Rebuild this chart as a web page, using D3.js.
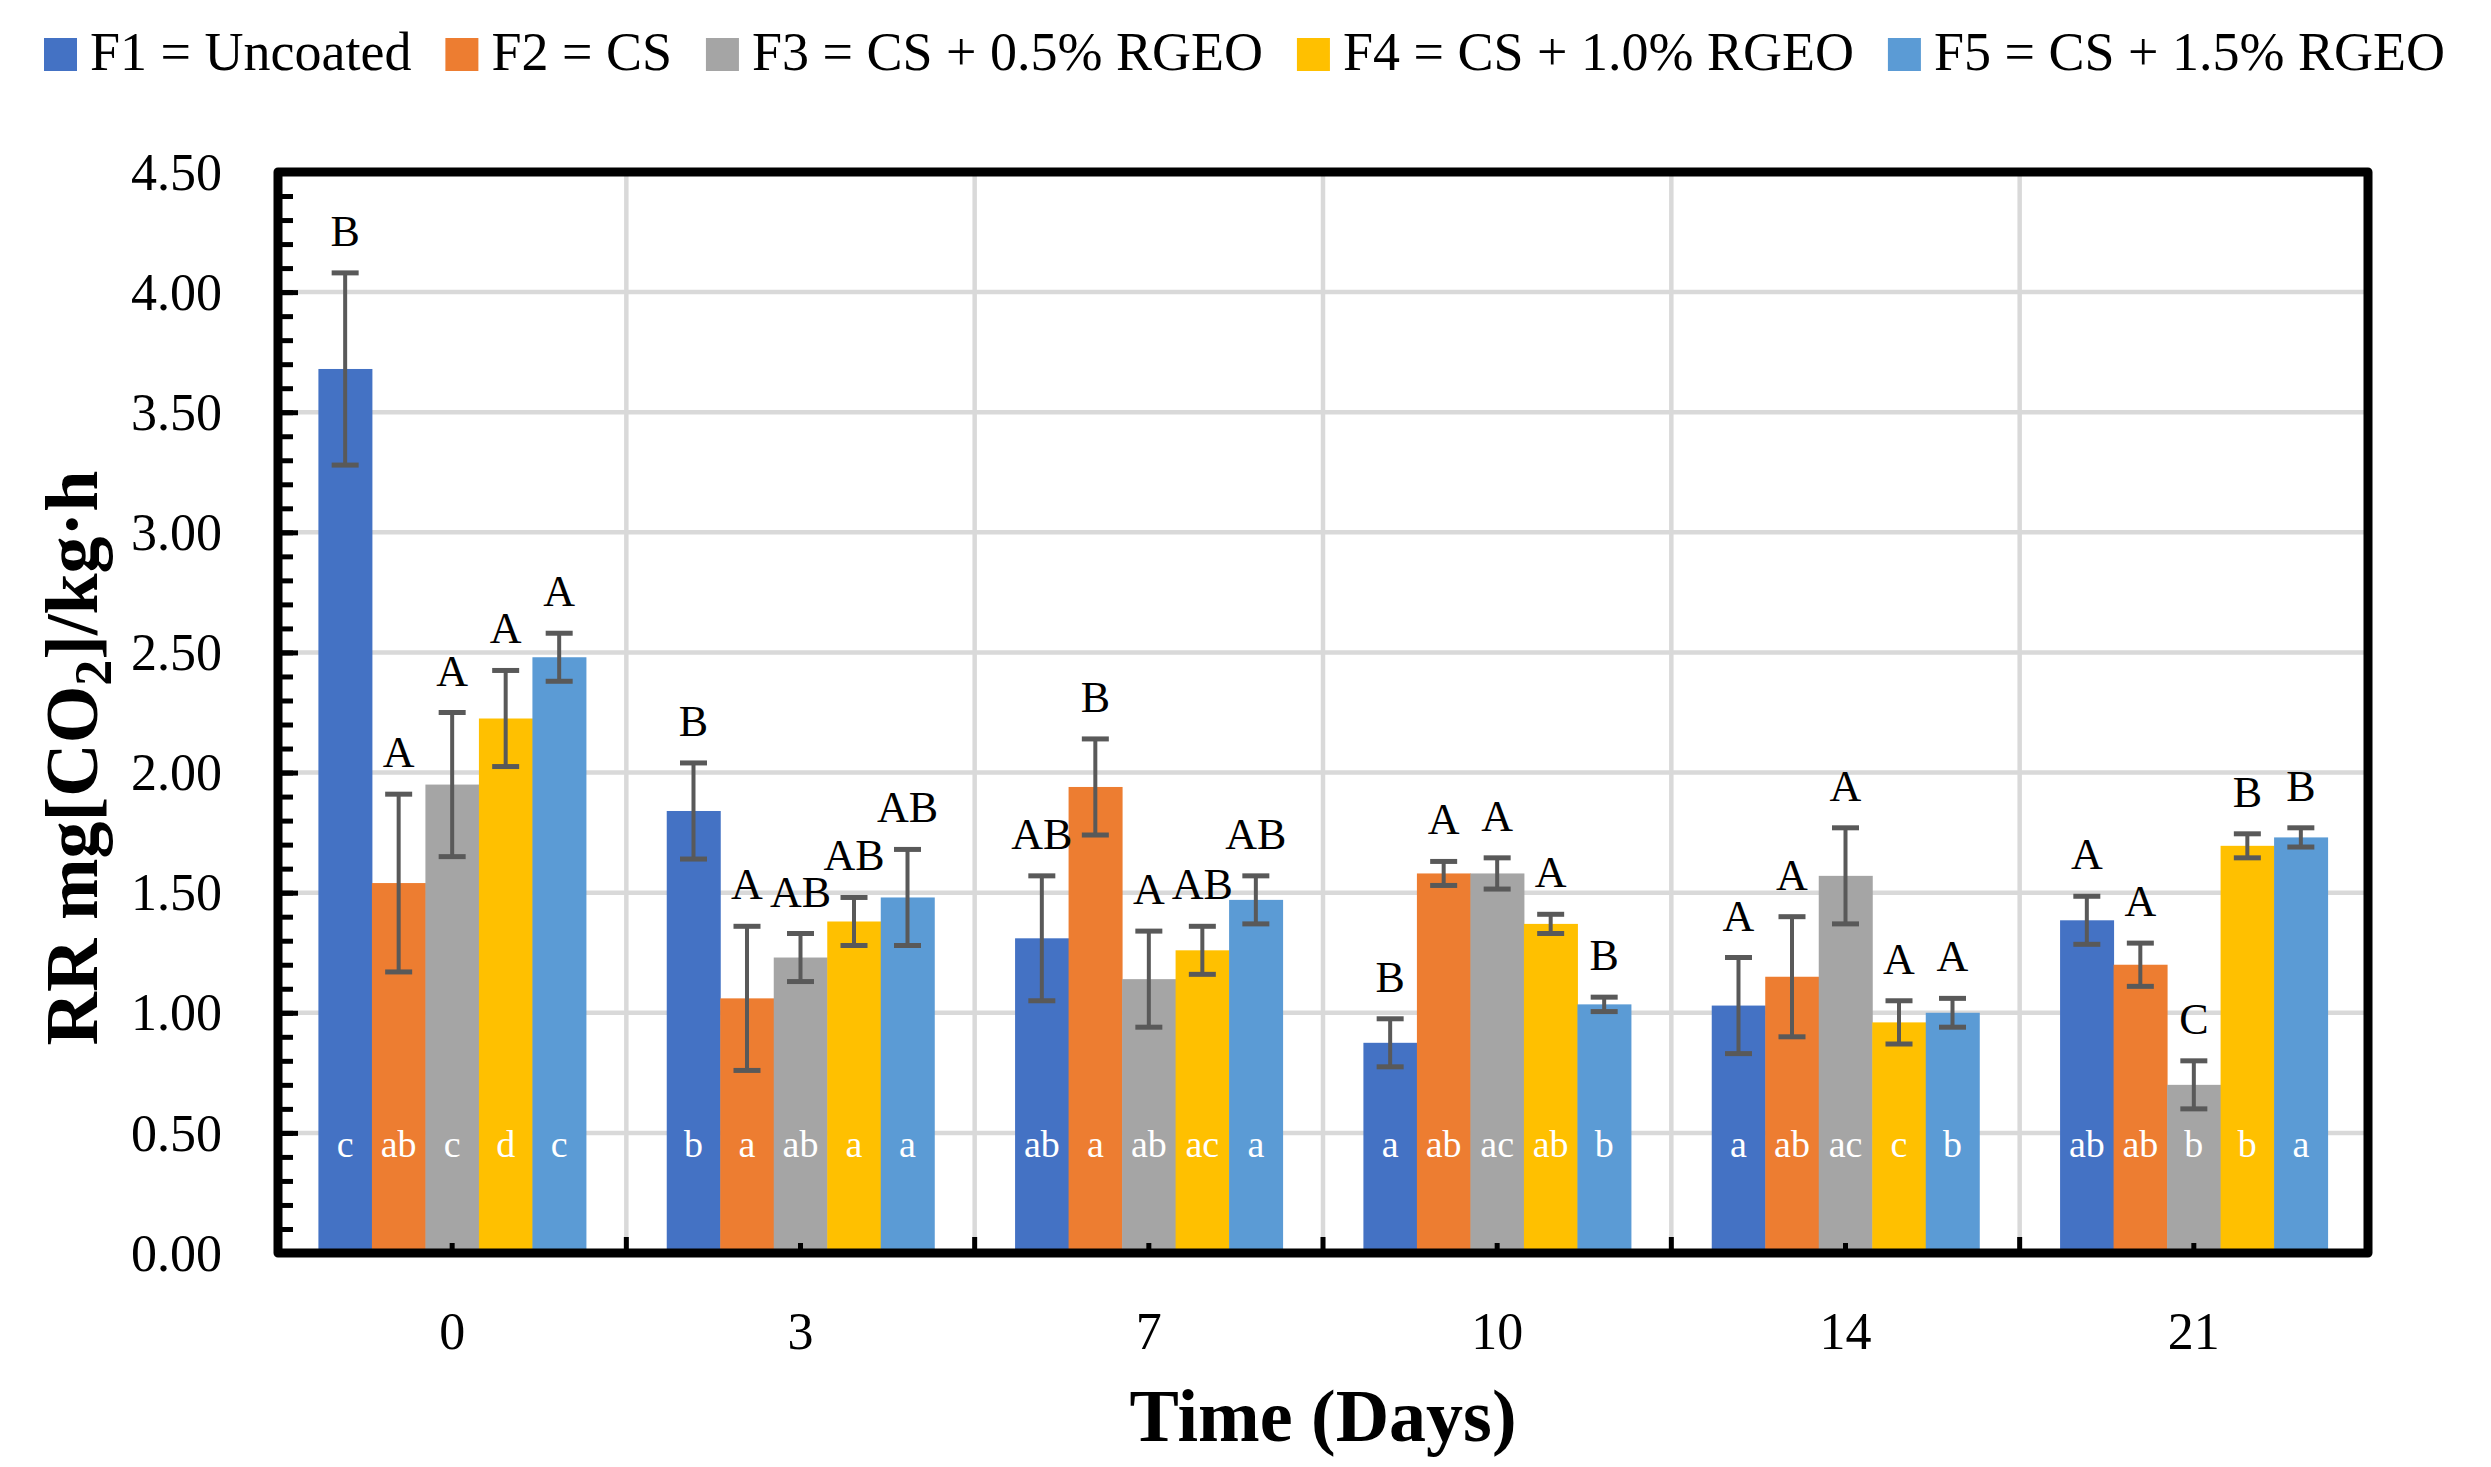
<!DOCTYPE html>
<html>
<head>
<meta charset="utf-8">
<script src="https://cdn.jsdelivr.net/npm/d3@7"></script>
<style>
  body { margin: 0; background: #fff; }
  svg { display: block; font-family: "Liberation Serif", "Times New Roman", serif; }
</style>
</head>
<body>
<svg id="chart" width="2491" height="1467"></svg>
<script>
// categories
let days = ["0", "3", "7", "10", "14", "21"];
let series = ["F1 = Uncoated", "F2 = CS", "F3 = CS + 0.5% RGEO", "F4 = CS + 1.0% RGEO", "F5 = CS + 1.5% RGEO"];
let colors = ["#4472C4", "#ED7D31", "#A5A5A5", "#FFC000", "#5B9BD5"];
let yTicks = [0, 0.5, 1, 1.5, 2, 2.5, 3, 3.5, 4, 4.5];

// mean RR per series (rows) and day (columns)
let means = [
    [3.68, 1.84, 1.31, 0.875, 1.03, 1.385],
    [1.54, 1.06, 1.94, 1.58, 1.15, 1.20],
    [1.95, 1.23, 1.14, 1.58, 1.57, 0.70],
    [2.225, 1.38, 1.26, 1.37, 0.96, 1.695],
    [2.48, 1.48, 1.47, 1.035, 1.00, 1.73]
];
// error bar half-length
let errors = [
    [0.40, 0.20, 0.26, 0.10, 0.20, 0.10],
    [0.37, 0.30, 0.20, 0.05, 0.25, 0.09],
    [0.30, 0.10, 0.20, 0.065, 0.20, 0.10],
    [0.20, 0.10, 0.10, 0.04, 0.09, 0.05],
    [0.10, 0.20, 0.10, 0.03, 0.06, 0.04]
];
// letters above bars (between formulations, same day)
let upperLetters = [
    ["B", "B", "AB", "B", "A", "A"],
    ["A", "A", "B", "A", "A", "A"],
    ["A", "AB", "A", "A", "A", "C"],
    ["A", "AB", "AB", "A", "A", "B"],
    ["A", "AB", "AB", "B", "A", "B"]
];
// letters inside bars (same formulation, between days)
let lowerLetters = [
    ["c", "b", "ab", "a", "a", "ab"],
    ["ab", "a", "a", "ab", "ab", "ab"],
    ["c", "ab", "ab", "ac", "ac", "b"],
    ["d", "a", "ac", "ab", "c", "b"],
    ["c", "a", "a", "b", "b", "a"]
];

let svg = d3.select("#chart");
let plot = {left: 278, right: 2368, top: 172, bottom: 1253};

let x = d3.scaleBand().domain(days).range([plot.left, plot.right]);
let step = x.step();
let xSub = d3.scaleBand().domain(d3.range(series.length)).range([step * 0.116, step * 0.884]);
let y = d3.scaleLinear().domain([0, 4.5]).range([plot.bottom, plot.top]);

let bars = [];
series.forEach((s, i) => {
    days.forEach((d, j) => {
        bars.push({s: i, day: d, value: means[i][j], err: errors[i][j],
            up: upperLetters[i][j], low: lowerLetters[i][j]});
    });
});

// gridlines
let grid = svg.append("g");
grid.selectAll("line.h").data(yTicks.filter(v => v > 0 && v < 4.5)).enter().append("line")
    .attr("x1", plot.left).attr("x2", plot.right)
    .attr("y1", d => y(d)).attr("y2", d => y(d))
    .attr("stroke", "#d9d9d9").attr("stroke-width", 4.5);
grid.selectAll("line.v").data(days.slice(1)).enter().append("line")
    .attr("x1", d => x(d)).attr("x2", d => x(d))
    .attr("y1", plot.top).attr("y2", plot.bottom)
    .attr("stroke", "#d9d9d9").attr("stroke-width", 4.5);

// bars
svg.append("g").selectAll("rect").data(bars).enter().append("rect")
    .attr("x", d => x(d.day) + xSub(d.s))
    .attr("width", xSub.bandwidth() + 0.5)
    .attr("y", d => y(d.value))
    .attr("height", d => y(0) - y(d.value))
    .attr("fill", d => colors[d.s]);

// error bars
let eb = svg.append("g").attr("stroke", "#595959");
let cx = d => x(d.day) + xSub(d.s) + xSub.bandwidth() / 2;
eb.selectAll("line.stem").data(bars).enter().append("line")
    .attr("x1", cx).attr("x2", cx)
    .attr("y1", d => y(d.value + d.err)).attr("y2", d => y(d.value - d.err))
    .attr("stroke-width", 4);
eb.selectAll("line.capT").data(bars).enter().append("line")
    .attr("x1", d => cx(d) - 13.5).attr("x2", d => cx(d) + 13.5)
    .attr("y1", d => y(d.value + d.err)).attr("y2", d => y(d.value + d.err))
    .attr("stroke-width", 5);
eb.selectAll("line.capB").data(bars).enter().append("line")
    .attr("x1", d => cx(d) - 13.5).attr("x2", d => cx(d) + 13.5)
    .attr("y1", d => y(d.value - d.err)).attr("y2", d => y(d.value - d.err))
    .attr("stroke-width", 5);

// y ticks (inside) and labels
let yMajor = svg.append("g").attr("transform", `translate(${plot.left},0)`)
    .call(d3.axisLeft(y).tickValues(yTicks).tickSize(-20).tickFormat(""));
let yMinor = svg.append("g").attr("transform", `translate(${plot.left},0)`)
    .call(d3.axisLeft(y).tickValues(d3.range(0, 45).map(i => i / 10)).tickSize(-15).tickFormat(""));
[yMajor, yMinor].forEach(g => {
    g.select(".domain").remove();
    g.selectAll("line").attr("stroke", "#000").attr("stroke-width", 5);
});
let yLab = svg.append("g").attr("transform", `translate(${plot.left},0)`)
    .call(d3.axisLeft(y).tickValues(yTicks).tickSize(0).tickPadding(56).tickFormat(d3.format(".2f")));
yLab.select(".domain").remove();
yLab.selectAll("text").attr("font-size", 52).attr("font-family", "Liberation Serif, serif")
    .attr("fill", "#000").attr("dy", "0.33em");

// x ticks: group centres and group boundaries
let xAx = svg.append("g").attr("transform", `translate(0,${plot.bottom})`)
    .call(d3.axisBottom(x).tickSize(-10).tickFormat(""));
xAx.select(".domain").remove();
xAx.selectAll("line").attr("stroke", "#000").attr("stroke-width", 5);
svg.append("g").selectAll("line").data(days.slice(1)).enter().append("line")
    .attr("x1", d => x(d)).attr("x2", d => x(d))
    .attr("y1", plot.bottom).attr("y2", plot.bottom - 16)
    .attr("stroke", "#000").attr("stroke-width", 5);
let xLab = svg.append("g").attr("transform", `translate(0,${plot.bottom})`)
    .call(d3.axisBottom(x).tickSize(0).tickPadding(59));
xLab.select(".domain").remove();
xLab.selectAll("text").attr("font-size", 52).attr("font-family", "Liberation Serif, serif").attr("fill", "#000");

// frame
svg.append("rect")
    .attr("x", plot.left).attr("y", plot.top)
    .attr("width", plot.right - plot.left).attr("height", plot.bottom - plot.top)
    .attr("fill", "none").attr("stroke", "#000").attr("stroke-width", 9)
    .attr("stroke-linejoin", "round");

// letters
svg.append("g").selectAll("text").data(bars).enter().append("text")
    .attr("x", cx)
    .attr("y", d => y(d.value + d.err) - 27)
    .attr("text-anchor", "middle")
    .attr("font-size", 44)
    .text(d => d.up);
svg.append("g").selectAll("text").data(bars).enter().append("text")
    .attr("x", cx)
    .attr("y", y(0.40))
    .attr("text-anchor", "middle")
    .attr("font-size", 38)
    .attr("fill", "#fff")
    .text(d => d.low);

// axis titles
svg.append("text")
    .attr("x", (plot.left + plot.right) / 2).attr("y", 1441)
    .attr("text-anchor", "middle").attr("font-size", 74).attr("font-weight", "bold")
    .text("Time (Days)");
let yt = svg.append("text")
    .attr("transform", "translate(97,758) rotate(-90)")
    .attr("text-anchor", "middle").attr("font-size", 74).attr("font-weight", "bold");
yt.append("tspan").text("RR mg[CO");
yt.append("tspan").attr("font-size", 52).attr("dy", 14).text("2");
yt.append("tspan").attr("dy", -14).text("]/kg·h");

// legend
let legend = svg.append("g");
let lx = 44;
series.forEach((s, i) => {
    let item = legend.append("g");
    item.append("rect").attr("x", lx).attr("y", 38).attr("width", 33).attr("height", 33).attr("fill", colors[i]);
    let t = item.append("text").attr("x", lx + 46).attr("y", 70).attr("font-size", 54).text(s);
    lx += 46 + t.node().getComputedTextLength() + 34;
});
// squeeze if it runs past the right edge
let legendEnd = lx - 34;
if (legendEnd > 2460) {
    let k = (2460 - 44) / (legendEnd - 44);
    legend.attr("transform", `translate(${44 * (1 - k)},0) scale(${k},1)`);
}
</script>
</body>
</html>
